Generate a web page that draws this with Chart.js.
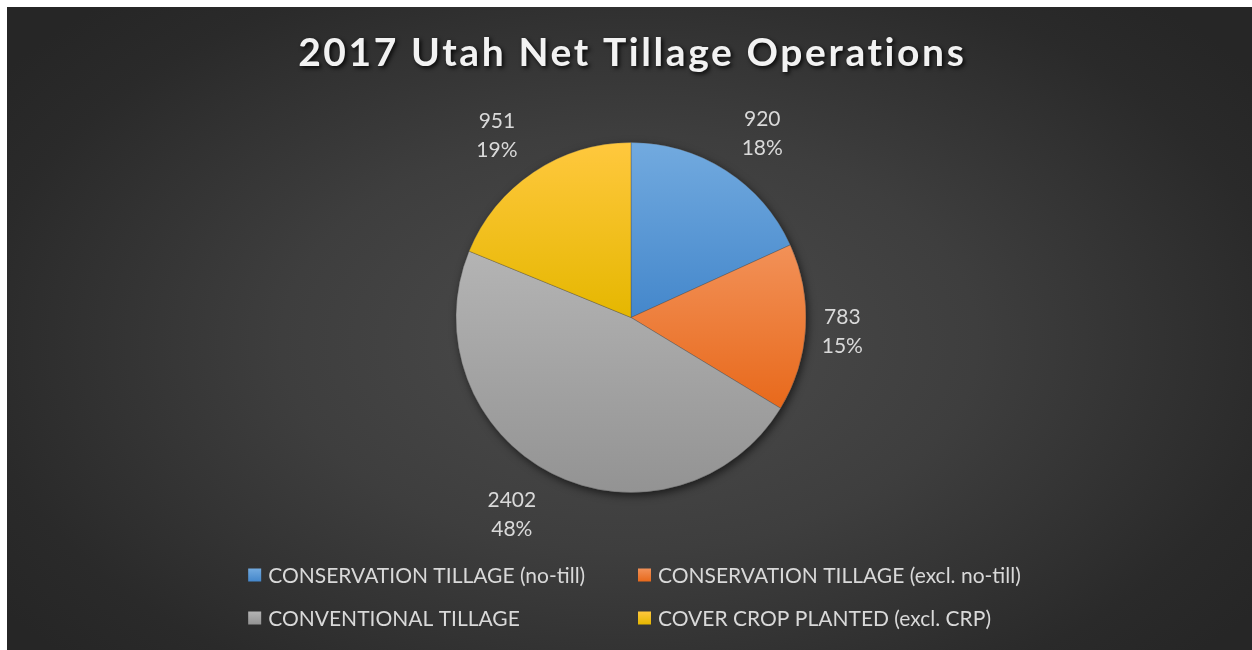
<!DOCTYPE html>
<html><head><meta charset="utf-8">
<script src="https://cdn.jsdelivr.net/npm/chart.js@4.4.1/dist/chart.umd.min.js"></script>
<style>
html,body{margin:0;padding:0;background:#fff;width:1252px;height:650px;overflow:hidden}
#wrap{position:absolute;left:7px;top:7px;width:1245px;height:643px;
background:radial-gradient(ellipse 62% 72% at 50% 52%, #4c4c4c 0%, #3e3e3e 45%, #2a2a2a 85%, #262626 100%)}
canvas{display:block}
</style></head><body><div id="wrap"><canvas id="c" width="1245" height="643"></canvas></div>
<script>
const titleText = '2017 Utah Net Tillage Operations';
const categories = ['CONSERVATION TILLAGE (no-till)', 'CONSERVATION TILLAGE (excl. no-till)', 'CONVENTIONAL TILLAGE', 'COVER CROP PLANTED (excl. CRP)'];
const values = [920, 783, 2402, 951];

// styles
const sliceTopColors = ['#72aadf', '#f29158', '#b4b4b4', '#ffc83e'];
const sliceBottomColors = ['#4487cb', '#e8691b', '#939393', '#e5b700'];
const textColor = '#d9d9d9';
const fontFamily = 'Lato, "Open Sans", sans-serif';
const CAP = 0.7165; // cap height ratio of Lato

const total = values.reduce((a, b) => a + b, 0);

function arcGradient(ctx, el, i) {
  const {x, y, startAngle, endAngle, outerRadius} = el.getProps(['x', 'y', 'startAngle', 'endAngle', 'outerRadius']);
  const pts = [[x, y], [x + Math.cos(startAngle) * outerRadius, y + Math.sin(startAngle) * outerRadius],
               [x + Math.cos(endAngle) * outerRadius, y + Math.sin(endAngle) * outerRadius]];
  for (let k = -4; k <= 4; k++) {
    const a = k * Math.PI / 2;
    if (a > startAngle && a < endAngle) pts.push([x + Math.cos(a) * outerRadius, y + Math.sin(a) * outerRadius]);
  }
  let minY = Infinity, maxY = -Infinity;
  pts.forEach(p => { minY = Math.min(minY, p[1]); maxY = Math.max(maxY, p[1]); });
  const g = ctx.createLinearGradient(0, minY, 0, maxY);
  g.addColorStop(0, sliceTopColors[i]);
  g.addColorStop(1, sliceBottomColors[i]);
  return g;
}

const stylePlugin = {
  id: 'excelStyle',
  beforeDatasetsDraw(chart) {
    const ctx = chart.ctx;
    const meta = chart.getDatasetMeta(0);
    const first = meta.data[0];
    const {x, y, outerRadius} = first.getProps(['x', 'y', 'outerRadius']);
    ctx.save();
    ctx.shadowColor = 'rgba(0,0,0,0.6)';
    ctx.shadowBlur = 9;
    ctx.shadowOffsetX = 2;
    ctx.shadowOffsetY = 3;
    ctx.beginPath();
    ctx.arc(x, y, outerRadius, 0, Math.PI * 2);
    ctx.fillStyle = '#777';
    ctx.fill();
    ctx.restore();
    meta.data.forEach((el, i) => { el.options.backgroundColor = arcGradient(ctx, el, i); });
  },
  afterDatasetsDraw(chart) {
    const ctx = chart.ctx;
    const meta = chart.getDatasetMeta(0);
    const fs = 21;
    ctx.save();
    ctx.font = fs + 'px ' + fontFamily;
    ctx.fillStyle = textColor;
    ctx.textAlign = 'center';
    ctx.textBaseline = 'alphabetic';
    const lineH = 29, gap = 16;
    meta.data.forEach((el, i) => {
      const {x, y, startAngle, endAngle, outerRadius} = el.getProps(['x', 'y', 'startAngle', 'endAngle', 'outerRadius']);
      const mid = (startAngle + endAngle) / 2;
      const dx = Math.cos(mid), dy = Math.sin(mid);
      const lines = [String(values[i]), Math.round(values[i] / total * 100) + '%'];
      const w = Math.max(...lines.map(t => ctx.measureText(t).width));
      const h = lines.length * lineH;
      const cx = x + dx * outerRadius + Math.sign(dx) * (gap + w / 2);
      const cy = y + dy * outerRadius + dy * (gap + h / 2);
      lines.forEach((t, k) => {
        const lc = cy - h / 2 + lineH / 2 + k * lineH;
        ctx.fillText(t, cx, lc + fs * CAP / 2);
      });
    });
    ctx.restore();
  },
  afterDraw(chart) {
    const ctx = chart.ctx;
    const centerX = (chart.chartArea.left + chart.chartArea.right) / 2;
    // title
    const tfs = 39;
    ctx.save();
    ctx.font = 'bold ' + tfs + 'px ' + fontFamily;
    ctx.letterSpacing = '2.6px';
    ctx.fillStyle = '#f2f2f2';
    ctx.textAlign = 'center';
    ctx.textBaseline = 'alphabetic';
    ctx.shadowColor = 'rgba(0,0,0,0.85)';
    ctx.shadowBlur = 4;
    ctx.shadowOffsetX = 2;
    ctx.shadowOffsetY = 2;
    ctx.fillText(titleText, centerX + 1.3, 44.7 + tfs * CAP / 2);
    ctx.restore();
    // legend (2-column grid)
    const lfs = 21;
    ctx.save();
    ctx.font = lfs + 'px ' + fontFamily;
    ctx.textBaseline = 'alphabetic';
    ctx.textAlign = 'left';
    const box = 13, gap = 7, colPad = 7;
    const maxW = Math.max(...categories.map(t => ctx.measureText(t).width)) + box + gap;
    const colW = maxW + colPad;
    const startX = centerX - colW + 7;
    const rowY = [568, 611];
    categories.forEach((t, i) => {
      const col = i % 2, row = Math.floor(i / 2);
      const bx = startX + col * colW, by = rowY[row];
      const g = ctx.createLinearGradient(0, by - box / 2, 0, by + box / 2);
      g.addColorStop(0, sliceTopColors[i]);
      g.addColorStop(1, sliceBottomColors[i]);
      ctx.fillStyle = g;
      ctx.fillRect(bx, by - box / 2, box, box);
      ctx.fillStyle = textColor;
      ctx.fillText(t, bx + box + gap, by + lfs * CAP / 2);
    });
    ctx.restore();
  }
};

new Chart(document.getElementById('c'), {
  type: 'pie',
  data: {
    labels: categories,
    datasets: [{
      data: values,
      backgroundColor: (c) => sliceBottomColors[c.dataIndex],
      borderColor: 'rgba(70,70,70,0.35)',
      borderWidth: 1
    }]
  },
  options: {
    responsive: false,
    animation: false,
    layout: {padding: {top: 135, bottom: 157, left: 3, right: 0}},
    plugins: {legend: {display: false}, title: {display: false}, tooltip: {enabled: false}}
  },
  plugins: [stylePlugin]
});
</script>
</body></html>
